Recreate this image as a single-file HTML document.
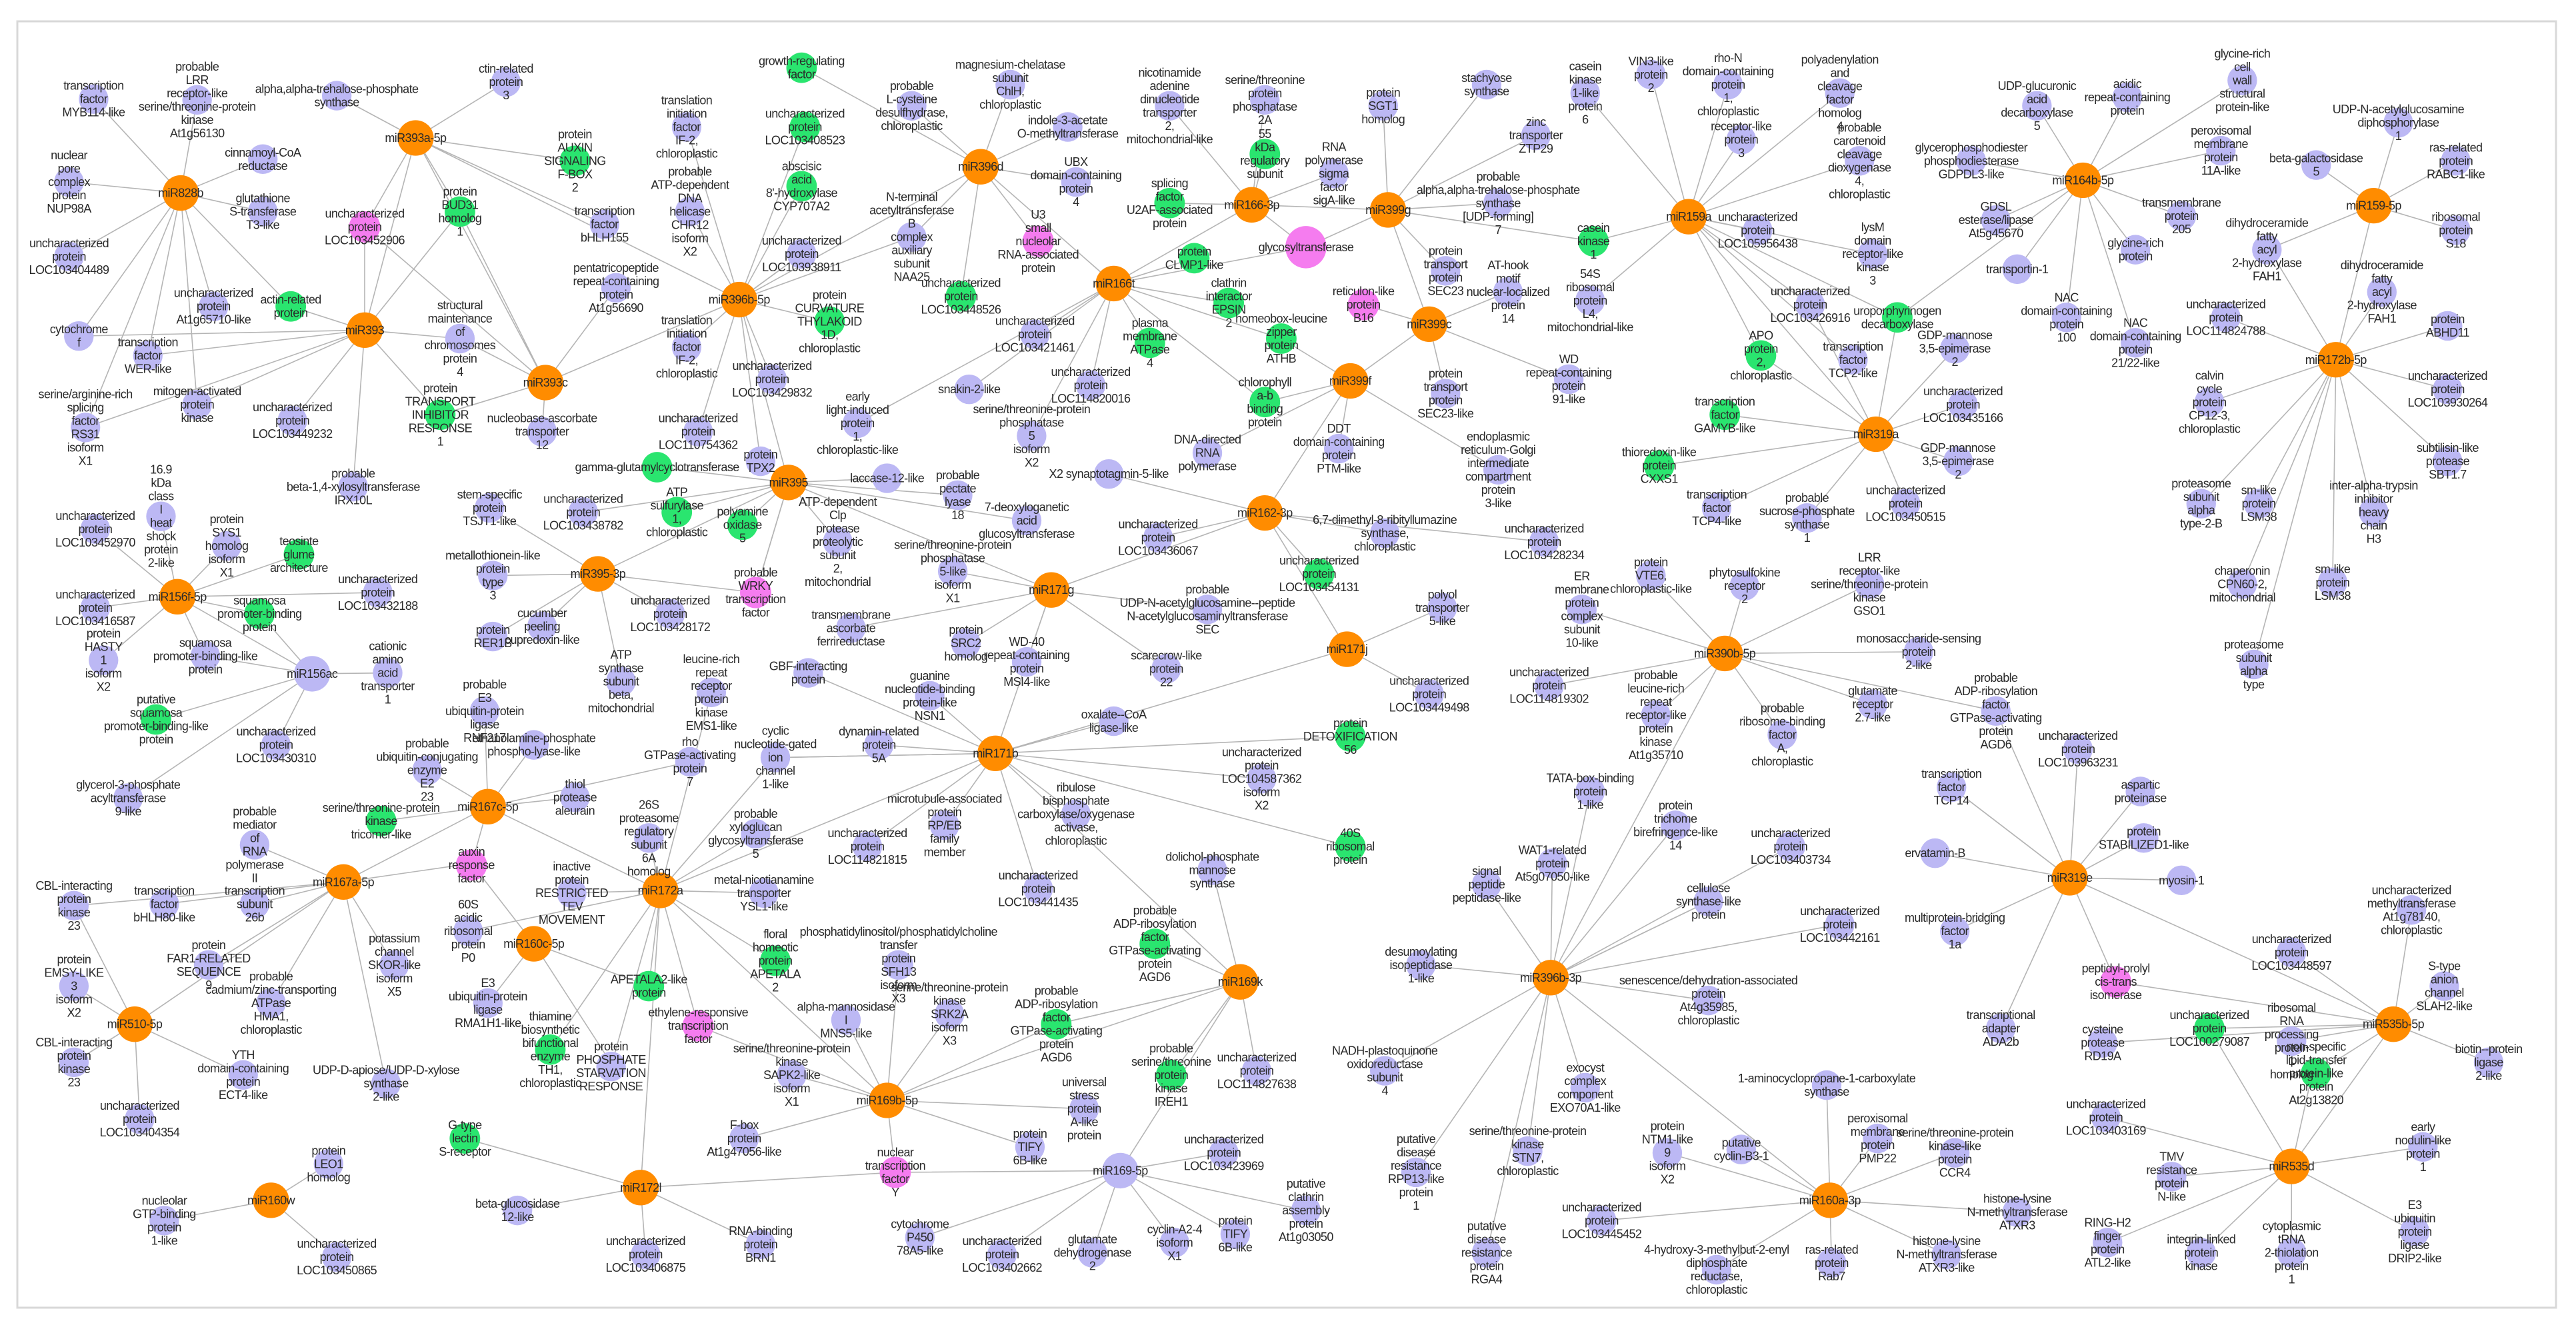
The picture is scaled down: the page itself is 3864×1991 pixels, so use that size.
<!DOCTYPE html>
<html><head><meta charset="utf-8"><style>
html,body{margin:0;padding:0;background:#fff;}
svg{display:block;}
text{font-family:"Liberation Sans","DejaVu Sans",sans-serif;fill:#2a2a2a;}
</style></head><body>
<svg id="S" xmlns="http://www.w3.org/2000/svg" width="3864" height="1991" viewBox="0 0 3864 1991">
<rect x="0" y="0" width="3864" height="1991" fill="#fff"/>
<rect x="26" y="32" width="3808" height="1930" fill="none" stroke="#d8d8d8" stroke-width="3"/>
<g transform="scale(2.464,1.27)">
<g id="L" stroke="#b5b5b5" fill="none">
<path vector-effect="non-scaling-stroke" stroke-width="1.6" d="M253 163L450 354M253 163L222 390M253 163L332 452M110 228L177 362M280 250L332 452M280 250L222 390M222 268L222 390M222 268L332 452M332 452L280 400M332 452L268 490M222 390L48 397M222 390L90 420M222 390L52 505M222 390L120 478M450 354L597 197M450 354L480 570M450 354L332 452M597 197L555 280M678 335L762 242M762 242L845 248M795 292L845 248M795 292L678 335M845 248L870 383M870 383L822 450M822 450L780 400M822 450L770 475M845 248L970 285M1028 256L1142 513M1102 360L1142 513M1072 420L1142 513M1155 375L1142 513M1380 290L1422 425M480 570L364 678M640 697L480 570M770 606L640 697M640 697L606 890M820 767L606 890M770 606L820 767M297 953L209 1042M297 953L402 1052M287 1020L209 1042M287 1020L325 1115M402 1052L390 1403M395 1165L325 1115M425 1212L540 1300M370 1250L325 1115M402 1052L606 890M209 1042L82 1210M45 1070L82 1210M540 1300L755 1160M545 1385L390 1403M545 1385L682 1383M540 1300L402 1052M755 1160L606 890M682 1383L755 1160M944 1155L1050 772M944 1155L1114 1418M1260 1037L1457 1210M1288 1160L1457 1210M1457 1210L1395 1378M1345 1215L1395 1378M1408 1265L1395 1378M108 705L190 796M158 725L190 796M125 775L108 705M364 678L460 700M480 570L460 700M606 890L472 895M402 1052L472 895M1050 772L1215 840M755 1160L643 1210M540 1300L643 1210M822 450L770 606M597 197L678 335M450 354L488 300M1268 213L1155 375M944 1155L1040 1065M1260 1037L1188 930M1422 425L1445 243"/>
</g>
<g id="N"></g>
</g>
<g id="T"></g>
<g id="D" style="display:none">
<g><text class="o" x="110" y="228">miR828b</text>
<text class="l" x="57" y="117">transcription|factor|MYB114-like</text>
<text class="l" x="120" y="118">probable|LRR|receptor-like|serine/threonine-protein|kinase|At1g56130</text>
<text class="l" x="160" y="188">cinnamoyl-CoA|reductase</text>
<text class="l" x="42" y="215">nuclear|pore|complex|protein|NUP98A</text>
<text class="l" x="160" y="250">glutathione|S-transferase|T3-like</text>
<text class="l" x="42" y="303">uncharacterized|protein|LOC103404489</text>
<text class="l" x="130" y="362">uncharacterized|protein|At1g65710-like</text>
<text class="l" x="48" y="397">cytochrome|f</text>
<text class="l" x="90" y="420">transcription|factor|WER-like</text>
<text class="l" x="52" y="505">serine/arginine-rich|splicing|factor|RS31|isoform|X1</text>
<text class="l" x="120" y="478">mitogen-activated|protein|kinase</text>
</g>
<g><text class="o" x="253" y="163">miR393a-5p</text>
<text class="l" x="205" y="113">alpha,alpha-trehalose-phosphate|synthase</text>
<text class="l" x="308" y="97">ctin-related|protein|3</text>
<text class="g" x="350" y="190">protein|AUXIN|SIGNALING|F-BOX|2</text>
<text class="p" x="222" y="268">uncharacterized|protein|LOC103452906</text>
<text class="g" x="280" y="250">protein|BUD31|homolog|1</text>
<text class="l" x="368" y="265">transcription|factor|bHLH155</text>
</g>
<g><text class="o" x="222" y="390">miR393</text>
<text class="g" x="177" y="362">actin-related|protein</text>
<text class="l" x="280" y="400">structural|maintenance|of|chromosomes|protein|4</text>
<text class="g" x="268" y="490">protein|TRANSPORT|INHIBITOR|RESPONSE|1</text>
<text class="l" x="178" y="497">uncharacterized|protein|LOC103449232</text>
<text class="l" x="215" y="575">probable|beta-1,4-xylosyltransferase|IRX10L</text>
</g>
<g><text class="o" x="332" y="452">miR393c</text>
<text class="l" x="375" y="340">pentatricopeptide|repeat-containing|protein|At1g56690</text>
<text class="l" x="330" y="510">nucleobase-ascorbate|transporter|12</text>
</g>
<g><text class="o" x="450" y="354">miR396b-5p</text>
<text class="l" x="418" y="150">translation|initiation|factor|IF-2,|chloroplastic</text>
<text class="l" x="420" y="250">probable|ATP-dependent|DNA|helicase|CHR12|isoform|X2</text>
<text class="g" x="488" y="220">abscisic|acid|8'-hydroxylase|CYP707A2</text>
<text class="l" x="418" y="410">translation|initiation|factor|IF-2,|chloroplastic</text>
<text class="l" x="470" y="448">uncharacterized|protein|LOC103429832</text>
<text class="l" x="425" y="510">uncharacterized|protein|LOC110754362</text>
<text class="l" x="463" y="545">protein|TPX2</text>
<text class="g" x="505" y="380">protein|CURVATURE|THYLAKOID|1D,|chloroplastic</text>
<text class="l" x="488" y="300">uncharacterized|protein|LOC103938911</text>
<text class="l" x="555" y="280">N-terminal|acetyltransferase|B|complex|auxiliary|subunit|NAA25</text>
<text class="g" x="490" y="150">uncharacterized|protein|LOC103408523</text>
</g>
<g><text class="o" x="597" y="197">miR396d</text>
<text class="g" x="488" y="80">growth-regulating|factor</text>
<text class="l" x="555" y="125">probable|L-cysteine|desulfhydrase,|chloroplastic</text>
<text class="l" x="615" y="100">magnesium-chelatase|subunit|ChlH,|chloroplastic</text>
<text class="l" x="650" y="150">indole-3-acetate|O-methyltransferase</text>
<text class="l" x="655" y="215">UBX|domain-containing|protein|4</text>
<text class="p" x="632" y="285">U3|small|nucleolar|RNA-associated|protein</text>
<text class="g" x="585" y="350">uncharacterized|protein|LOC103448526</text>
</g>
<g><text class="o" x="762" y="242">miR166-3p</text>
<text class="l" x="712" y="125">nicotinamide|adenine|dinucleotide|transporter|2,|mitochondrial-like</text>
<text class="l" x="770" y="118">serine/threonine|protein|phosphatase|2A</text>
<text class="g" x="770" y="182">55|kDa|regulatory|subunit</text>
<text class="g" x="712" y="240">splicing|factor|U2AF-associated|protein</text>
<text class="b" x="795" y="292">glycosyltransferase</text>
<text class="l" x="812" y="205">RNA|polymerase|sigma|factor|sigA-like</text>
</g>
<g><text class="o" x="678" y="335">miR166t</text>
<text class="g" x="727" y="305">protein|CLMP1-like</text>
<text class="g" x="748" y="358">clathrin|interactor|EPSIN|2</text>
<text class="g" x="700" y="405">plasma|membrane|ATPase|4</text>
<text class="l" x="630" y="395">uncharacterized|protein|LOC103421461</text>
<text class="g" x="780" y="400">homeobox-leucine|zipper|protein|ATHB</text>
<text class="l" x="664" y="455">uncharacterized|protein|LOC114820016</text>
<text class="l" x="628" y="515">serine/threonine-protein|phosphatase|5|isoform|X2</text>
<text class="g" x="770" y="475">chlorophyll|a-b|binding|protein</text>
<text class="l" x="590" y="460">snakin-2-like</text>
<text class="l" x="522" y="500">early|light-induced|protein|1,|chloroplastic-like</text>
</g>
<g><text class="o" x="845" y="248">miR399g</text>
<text class="l" x="842" y="125">protein|SGT1|homolog</text>
<text class="l" x="905" y="100">stachyose|synthase</text>
<text class="l" x="912" y="240">probable|alpha,alpha-trehalose-phosphate|synthase|[UDP-forming]|7</text>
<text class="l" x="935" y="160">zinc|transporter|ZTP29</text>
<text class="l" x="880" y="320">protein|transport|protein|SEC23</text>
</g>
<g><text class="o" x="870" y="383">miR399c</text>
<text class="p" x="830" y="360">reticulon-like|protein|B16</text>
<text class="l" x="918" y="345">AT-hook|motif|nuclear-localized|protein|14</text>
<text class="l" x="880" y="465">protein|transport|protein|SEC23-like</text>
<text class="l" x="955" y="448">WD|repeat-containing|protein|91-like</text>
</g>
<g><text class="o" x="822" y="450">miR399f</text>
<text class="l" x="815" y="530">DDT|domain-containing|protein|PTM-like</text>
<text class="l" x="735" y="535">DNA-directed|RNA|polymerase</text>
<text class="l" x="912" y="555">endoplasmic|reticulum-Golgi|intermediate|compartment|protein|3-like</text>
</g>
<g><text class="o" x="1028" y="256">miR159a</text>
<text class="l" x="965" y="110">casein|kinase|1-like|protein|6</text>
<text class="l" x="1005" y="88">VIN3-like|protein|2</text>
<text class="l" x="1052" y="100">rho-N|domain-containing|protein|1,|chloroplastic</text>
<text class="l" x="1120" y="110">polyadenylation|and|cleavage|factor|homolog|4</text>
<text class="l" x="1060" y="165">receptor-like|protein|3</text>
<text class="l" x="1132" y="190">probable|carotenoid|cleavage|dioxygenase|4,|chloroplastic</text>
<text class="g" x="970" y="285">casein|kinase|1</text>
<text class="l" x="968" y="355">54S|ribosomal|protein|L4,|mitochondrial-like</text>
<text class="l" x="1070" y="272">uncharacterized|protein|LOC105956438</text>
<text class="l" x="1140" y="300">lysM|domain|receptor-like|kinase|3</text>
<text class="l" x="1102" y="360">uncharacterized|protein|LOC103426916</text>
<text class="g" x="1072" y="420">APO|protein|2,|chloroplastic</text>
<text class="g" x="1155" y="375">uroporphyrinogen|decarboxylase</text>
<text class="l" x="1128" y="425">transcription|factor|TCP2-like</text>
</g>
<g><text class="o" x="1268" y="213">miR164b-5p</text>
<text class="l" x="1240" y="125">UDP-glucuronic|acid|decarboxylase|5</text>
<text class="l" x="1295" y="115">acidic|repeat-containing|protein</text>
<text class="l" x="1365" y="95">glycine-rich|cell|wall|structural|protein-like</text>
<text class="l" x="1200" y="190">glycerophosphodiester|phosphodiesterase|GDPDL3-like</text>
<text class="l" x="1352" y="178">peroxisomal|membrane|protein|11A-like</text>
<text class="l" x="1215" y="260">GDSL|esterase/lipase|At5g45670</text>
<text class="l" x="1328" y="255">transmembrane|protein|205</text>
<text class="l" x="1300" y="295">glycine-rich|protein</text>
<text class="l" x="1228" y="318">transportin-1</text>
<text class="l" x="1258" y="375">NAC|domain-containing|protein|100</text>
<text class="l" x="1300" y="405">NAC|domain-containing|protein|21/22-like</text>
</g>
<g><text class="o" x="1445" y="243">miR159-5p</text>
<text class="l" x="1460" y="145">UDP-N-acetylglucosamine|diphosphorylase|1</text>
<text class="l" x="1410" y="195">beta-galactosidase|5</text>
<text class="l" x="1495" y="190">ras-related|protein|RABC1-like</text>
<text class="l" x="1495" y="272">ribosomal|protein|S18</text>
<text class="l" x="1380" y="295">dihydroceramide|fatty|acyl|2-hydroxylase|FAH1</text>
</g>
<g><text class="o" x="1422" y="425">miR172b-5p</text>
<text class="l" x="1450" y="345">dihydroceramide|fatty|acyl|2-hydroxylase|FAH1</text>
<text class="l" x="1355" y="375">uncharacterized|protein|LOC114824788</text>
<text class="l" x="1490" y="385">protein|ABHD11</text>
<text class="l" x="1490" y="460">uncharacterized|protein|LOC103930264</text>
<text class="l" x="1345" y="475">calvin|cycle|protein|CP12-3,|chloroplastic</text>
<text class="l" x="1490" y="545">subtilisin-like|protease|SBT1.7</text>
<text class="l" x="1340" y="595">proteasome|subunit|alpha|type-2-B</text>
<text class="l" x="1375" y="595">sm-like|protein|LSM38</text>
<text class="l" x="1445" y="605">inter-alpha-trypsin|inhibitor|heavy|chain|H3</text>
<text class="l" x="1420" y="688">sm-like|protein|LSM38</text>
<text class="l" x="1365" y="690">chaperonin|CPN60-2,|mitochondrial</text>
<text class="l" x="1372" y="785">proteasome|subunit|alpha|type</text>
</g>
<g><text class="o" x="1142" y="513">miR319a</text>
<text class="l" x="1195" y="478">uncharacterized|protein|LOC103435166</text>
<text class="l" x="1190" y="412">GDP-mannose|3,5-epimerase|2</text>
<text class="g" x="1050" y="490">transcription|factor|GAMYB-like</text>
<text class="g" x="1010" y="550">thioredoxin-like|protein|CXXS1</text>
<text class="l" x="1192" y="545">GDP-mannose|3,5-epimerase|2</text>
<text class="l" x="1045" y="600">transcription|factor|TCP4-like</text>
<text class="l" x="1100" y="612">probable|sucrose-phosphate|synthase|1</text>
<text class="l" x="1160" y="595">uncharacterized|protein|LOC103450515</text>
</g>
<g><text class="o" x="480" y="570">miR395</text>
<text class="g" x="400" y="552">gamma-glutamylcyclotransferase</text>
<text class="g" x="412" y="605">ATP|sulfurylase|1,|chloroplastic</text>
<text class="g" x="452" y="620">polyamine|oxidase|5</text>
<text class="l" x="540" y="565">laccase-12-like</text>
<text class="l" x="583" y="585">probable|pectate|lyase|18</text>
<text class="l" x="510" y="640">ATP-dependent|Clp|protease|proteolytic|subunit|2,|mitochondrial</text>
<text class="l" x="625" y="615">7-deoxyloganetic|acid|glucosyltransferase</text>
<text class="l" x="355" y="605">uncharacterized|protein|LOC103438782</text>
<text class="p" x="460" y="700">probable|WRKY|transcription|factor</text>
</g>
<g><text class="o" x="364" y="678">miR395-3p</text>
<text class="l" x="298" y="600">stem-specific|protein|TSJT1-like</text>
<text class="l" x="300" y="680">metallothionein-like|protein|type|3</text>
<text class="l" x="300" y="752">protein|RER1B</text>
<text class="l" x="330" y="740">cucumber|peeling|cupredoxin-like</text>
<text class="l" x="408" y="725">uncharacterized|protein|LOC103428172</text>
<text class="l" x="378" y="805">ATP|synthase|subunit|beta,|mitochondrial</text>
</g>
<g><text class="o" x="770" y="606">miR162-3p</text>
<text class="l" x="675" y="560">X2 synaptotagmin-5-like</text>
<text class="l" x="705" y="635">uncharacterized|protein|LOC103436067</text>
<text class="l" x="843" y="630">6,7-dimethyl-8-ribityllumazine|synthase,|chloroplastic</text>
<text class="g" x="803" y="678">uncharacterized|protein|LOC103454131</text>
<text class="l" x="940" y="640">uncharacterized|protein|LOC103428234</text>
</g>
<g><text class="o" x="640" y="697">miR171g</text>
<text class="l" x="580" y="675">serine/threonine-protein|phosphatase|5-like|isoform|X1</text>
<text class="l" x="518" y="742">transmembrane|ascorbate|ferrireductase</text>
<text class="l" x="588" y="760">protein|SRC2|homolog</text>
<text class="l" x="625" y="782">WD-40|repeat-containing|protein|MSI4-like</text>
<text class="l" x="735" y="720">probable|UDP-N-acetylglucosamine--peptide|N-acetylglucosaminyltransferase|SEC</text>
<text class="l" x="710" y="790">scarecrow-like|protein|22</text>
</g>
<g><text class="o" x="820" y="767">miR171j</text>
<text class="l" x="878" y="718">polyol|transporter|5-like</text>
<text class="l" x="870" y="820">uncharacterized|protein|LOC103449498</text>
</g>
<g><text class="o" x="108" y="705">miR156f-5p</text>
<text class="l" x="98" y="610">16.9|kDa|class|I|heat|shock|protein|2-like</text>
<text class="l" x="58" y="625">uncharacterized|protein|LOC103452970</text>
<text class="l" x="138" y="645">protein|SYS1|homolog|isoform|X1</text>
<text class="g" x="182" y="655">teosinte|glume|architecture</text>
<text class="l" x="58" y="718">uncharacterized|protein|LOC103416587</text>
<text class="l" x="63" y="780">protein|HASTY|1|isoform|X2</text>
<text class="g" x="158" y="725">squamosa|promoter-binding|protein</text>
<text class="l" x="230" y="700">uncharacterized|protein|LOC103432188</text>
</g>
<g><text class="l" x="190" y="796">miR156ac</text>
<text class="l" x="125" y="775">squamosa|promoter-binding-like|protein</text>
<text class="g" x="95" y="850">putative|squamosa|promoter-binding-like|protein</text>
<text class="l" x="236" y="795">cationic|amino|acid|transporter|1</text>
<text class="l" x="168" y="880">uncharacterized|protein|LOC103430310</text>
<text class="l" x="78" y="943">glycerol-3-phosphate|acyltransferase|9-like</text>
</g>
<g><text class="o" x="1050" y="772">miR390b-5p</text>
<text class="l" x="1005" y="680">protein|VTE6,|chloroplastic-like</text>
<text class="l" x="1062" y="692">phytosulfokine|receptor|2</text>
<text class="l" x="1138" y="690">LRR|receptor-like|serine/threonine-protein|kinase|GSO1</text>
<text class="l" x="963" y="720">ER|membrane|protein|complex|subunit|10-like</text>
<text class="l" x="1168" y="770">monosaccharide-sensing|protein|2-like</text>
<text class="l" x="943" y="810">uncharacterized|protein|LOC114819302</text>
<text class="l" x="1008" y="845">probable|leucine-rich|repeat|receptor-like|protein|kinase|At1g35710</text>
<text class="l" x="1085" y="868">probable|ribosome-binding|factor|A,|chloroplastic</text>
<text class="l" x="1140" y="832">glutamate|receptor|2.7-like</text>
</g>
<g><text class="o" x="606" y="890">miR171b</text>
<text class="l" x="492" y="795">GBF-interacting|protein</text>
<text class="l" x="535" y="880">dynamin-related|protein|5A</text>
<text class="l" x="566" y="822">guanine|nucleotide-binding|protein-like|NSN1</text>
<text class="l" x="678" y="852">oxalate--CoA|ligase-like</text>
<text class="g" x="822" y="870">protein|DETOXIFICATION|56</text>
<text class="l" x="768" y="920">uncharacterized|protein|LOC104587362|isoform|X2</text>
<text class="g" x="822" y="1000">40S|ribosomal|protein</text>
<text class="l" x="575" y="975">microtubule-associated|protein|RP/EB|family|member</text>
<text class="l" x="655" y="962">ribulose|bisphosphate|carboxylase/oxygenase|activase,|chloroplastic</text>
<text class="l" x="528" y="1000">uncharacterized|protein|LOC114821815</text>
<text class="l" x="632" y="1050">uncharacterized|protein|LOC103441435</text>
<text class="l" x="472" y="895">cyclic|nucleotide-gated|ion|channel|1-like</text>
</g>
<g><text class="o" x="297" y="953">miR167c-5p</text>
<text class="l" x="295" y="840">probable|E3|ubiquitin-protein|ligase|RNF217</text>
<text class="l" x="325" y="880">ethanolamine-phosphate|phospho-lyase-like</text>
<text class="l" x="420" y="900">rho|GTPase-activating|protein|7</text>
<text class="l" x="260" y="910">probable|ubiquitin-conjugating|enzyme|E2|23</text>
<text class="l" x="350" y="942">thiol|protease|aleurain</text>
<text class="g" x="232" y="970">serine/threonine-protein|kinase|tricomer-like</text>
<text class="p" x="287" y="1022">auxin|response|factor</text>
</g>
<g><text class="o" x="209" y="1042">miR167a-5p</text>
<text class="l" x="155" y="998">probable|mediator|of|RNA|polymerase|II</text>
<text class="l" x="155" y="1068">transcription|subunit|26b</text>
<text class="l" x="100" y="1068">transcription|factor|bHLH80-like</text>
<text class="l" x="45" y="1070">CBL-interacting|protein|kinase|23</text>
<text class="l" x="127" y="1140">protein|FAR1-RELATED|SEQUENCE|9</text>
<text class="l" x="165" y="1185">probable|cadmium/zinc-transporting|ATPase|HMA1,|chloroplastic</text>
<text class="l" x="240" y="1140">potassium|channel|SKOR-like|isoform|X5</text>
<text class="l" x="235" y="1280">UDP-D-apiose/UDP-D-xylose|synthase|2-like</text>
</g>
<g><text class="o" x="402" y="1052">miR172a</text>
<text class="l" x="395" y="990">26S|proteasome|regulatory|subunit|6A|homolog</text>
<text class="l" x="433" y="818">leucine-rich|repeat|receptor|protein|kinase|EMS1-like</text>
<text class="l" x="460" y="985">probable|xyloglucan|glycosyltransferase|5</text>
<text class="l" x="348" y="1055">inactive|protein|RESTRICTED|TEV|MOVEMENT</text>
<text class="l" x="465" y="1055">metal-nicotianamine|transporter|YSL1-like</text>
<text class="g" x="472" y="1135">floral|homeotic|protein|APETALA|2</text>
<text class="g" x="395" y="1165">APETALA2-like|protein</text>
<text class="p" x="425" y="1212">ethylene-responsive|transcription|factor</text>
<text class="l" x="285" y="1100">60S|acidic|ribosomal|protein|P0</text>
<text class="g" x="335" y="1240">thiamine|biosynthetic|bifunctional|enzyme|TH1,|chloroplastic</text>
<text class="l" x="372" y="1260">protein|PHOSPHATE|STARVATION|RESPONSE</text>
</g>
<g><text class="o" x="325" y="1115">miR160c-5p</text>
<text class="l" x="297" y="1185">E3|ubiquitin-protein|ligase|RMA1H1-like</text>
</g>
<g><text class="o" x="1260" y="1037">miR319e</text>
<text class="l" x="1215" y="840">probable|ADP-ribosylation|factor|GTPase-activating|protein|AGD6</text>
<text class="l" x="1265" y="885">uncharacterized|protein|LOC103963231</text>
<text class="l" x="1188" y="930">transcription|factor|TCP14</text>
<text class="l" x="1303" y="935">aspartic|proteinase</text>
<text class="l" x="1305" y="990">protein|STABILIZED1-like</text>
<text class="l" x="1178" y="1008">ervatamin-B</text>
<text class="l" x="1328" y="1040">myosin-1</text>
<text class="l" x="1190" y="1100">multiprotein-bridging|factor|1a</text>
<text class="l" x="1218" y="1215">transcriptional|adapter|ADA2b</text>
<text class="p" x="1288" y="1160">peptidyl-prolyl|cis-trans|isomerase</text>
</g>
<g><text class="o" x="944" y="1155">miR396b-3p</text>
<text class="l" x="968" y="935">TATA-box-binding|protein|1-like</text>
<text class="l" x="1020" y="975">protein|trichome|birefringence-like|14</text>
<text class="l" x="945" y="1020">WAT1-related|protein|At5g07050-like</text>
<text class="l" x="1090" y="1000">uncharacterized|protein|LOC103403734</text>
<text class="l" x="905" y="1045">signal|peptide|peptidase-like</text>
<text class="l" x="1040" y="1065">cellulose|synthase-like|protein</text>
<text class="l" x="1120" y="1092">uncharacterized|protein|LOC103442161</text>
<text class="l" x="865" y="1140">desumoylating|isopeptidase|1-like</text>
<text class="l" x="1040" y="1182">senescence/dehydration-associated|protein|At4g35985,|chloroplastic</text>
<text class="l" x="843" y="1265">NADH-plastoquinone|oxidoreductase|subunit|4</text>
<text class="l" x="965" y="1285">exocyst|complex|component|EXO70A1-like</text>
<text class="l" x="862" y="1385">putative|disease|resistance|RPP13-like|protein|1</text>
<text class="l" x="930" y="1360">serine/threonine-protein|kinase|STN7,|chloroplastic</text>
<text class="l" x="905" y="1480">putative|disease|resistance|protein|RGA4</text>
</g>
<g><text class="o" x="755" y="1160">miR169k</text>
<text class="g" x="703" y="1115">probable|ADP-ribosylation|factor|GTPase-activating|protein|AGD6</text>
<text class="l" x="738" y="1028">dolichol-phosphate|mannose|synthase</text>
<text class="g" x="643" y="1210">probable|ADP-ribosylation|factor|GTPase-activating|protein|AGD6</text>
<text class="g" x="713" y="1270">probable|serine/threonine|protein|kinase|IREH1</text>
<text class="l" x="765" y="1265">uncharacterized|protein|LOC114827638</text>
</g>
<g><text class="o" x="540" y="1300">miR169b-5p</text>
<text class="l" x="547" y="1140">phosphatidylinositol/phosphatidylcholine|transfer|protein|SFH13|isoform|X3</text>
<text class="l" x="515" y="1205">alpha-mannosidase|I|MNS5-like</text>
<text class="l" x="578" y="1198">serine/threonine-protein|kinase|SRK2A|isoform|X3</text>
<text class="l" x="482" y="1270">serine/threonine-protein|kinase|SAPK2-like|isoform|X1</text>
<text class="l" x="453" y="1345">F-box|protein|At1g47056-like</text>
<text class="p" x="545" y="1385">nuclear|transcription|factor|Y</text>
<text class="l" x="660" y="1310">universal|stress|protein|A-like|protein</text>
<text class="l" x="627" y="1355">protein|TIFY|6B-like</text>
</g>
<g><text class="l" x="682" y="1383">miR169-5p</text>
<text class="l" x="745" y="1362">uncharacterized|protein|LOC103423969</text>
<text class="l" x="560" y="1462">cytochrome|P450|78A5-like</text>
<text class="l" x="610" y="1482">uncharacterized|protein|LOC103402662</text>
<text class="l" x="665" y="1480">glutamate|dehydrogenase|2</text>
<text class="l" x="715" y="1468">cyclin-A2-4|isoform|X1</text>
<text class="l" x="752" y="1458">protein|TIFY|6B-like</text>
<text class="l" x="795" y="1430">putative|clathrin|assembly|protein|At1g03050</text>
</g>
<g><text class="o" x="82" y="1210">miR510-5p</text>
<text class="l" x="45" y="1165">protein|EMSY-LIKE|3|isoform|X2</text>
<text class="l" x="45" y="1255">CBL-interacting|protein|kinase|23</text>
<text class="l" x="148" y="1270">YTH|domain-containing|protein|ECT4-like</text>
<text class="l" x="85" y="1322">uncharacterized|protein|LOC103404354</text>
</g>
<g><text class="o" x="1457" y="1210">miR535b-5p</text>
<text class="l" x="1468" y="1075">uncharacterized|methyltransferase|At1g78140,|chloroplastic</text>
<text class="l" x="1395" y="1125">uncharacterized|protein|LOC103448597</text>
<text class="l" x="1488" y="1165">S-type|anion|channel|SLAH2-like</text>
<text class="g" x="1345" y="1215">uncharacterized|protein|LOC100279087</text>
<text class="l" x="1395" y="1230">ribosomal|RNA|processing|protein|1|homolog</text>
<text class="g" x="1410" y="1268">non-specific|lipid-transfer|protein-like|protein|At2g13820</text>
<text class="l" x="1515" y="1255">biotin--protein|ligase|2-like</text>
<text class="l" x="1280" y="1232">cysteine|protease|RD19A</text>
</g>
<g><text class="o" x="1395" y="1378">miR535d</text>
<text class="l" x="1282" y="1320">uncharacterized|protein|LOC103403169</text>
<text class="l" x="1322" y="1390">TMV|resistance|protein|N-like</text>
<text class="l" x="1475" y="1355">early|nodulin-like|protein|1</text>
<text class="l" x="1283" y="1468">RING-H2|finger|protein|ATL2-like</text>
<text class="l" x="1340" y="1480">integrin-linked|protein|kinase</text>
<text class="l" x="1395" y="1480">cytoplasmic|tRNA|2-thiolation|protein|1</text>
<text class="l" x="1470" y="1455">E3|ubiquitin|protein|ligase|DRIP2-like</text>
</g>
<g><text class="o" x="390" y="1403">miR172l</text>
<text class="g" x="283" y="1345">G-type|lectin|S-receptor</text>
<text class="l" x="315" y="1430">beta-glucosidase|12-like</text>
<text class="l" x="393" y="1482">uncharacterized|protein|LOC103406875</text>
<text class="l" x="463" y="1470">RNA-binding|protein|BRN1</text>
</g>
<g><text class="o" x="1114" y="1418">miR160a-3p</text>
<text class="l" x="1015" y="1362">protein|NTM1-like|9|isoform|X2</text>
<text class="l" x="1060" y="1358">putative|cyclin-B3-1</text>
<text class="l" x="1112" y="1282">1-aminocyclopropane-1-carboxylate|synthase</text>
<text class="l" x="1143" y="1345">peroxisomal|membrane|protein|PMP22</text>
<text class="l" x="1190" y="1362">serine/threonine-protein|kinase-like|protein|CCR4</text>
<text class="l" x="1228" y="1432">histone-lysine|N-methyltransferase|ATXR3</text>
<text class="l" x="975" y="1442">uncharacterized|protein|LOC103445452</text>
<text class="l" x="1045" y="1500">4-hydroxy-3-methylbut-2-enyl|diphosphate|reductase,|chloroplastic</text>
<text class="l" x="1115" y="1492">ras-related|protein|Rab7</text>
<text class="l" x="1185" y="1482">histone-lysine|N-methyltransferase|ATXR3-like</text>
</g>
<g><text class="o" x="165" y="1418">miR160w</text>
<text class="l" x="200" y="1375">protein|LEO1|homolog</text>
<text class="l" x="100" y="1442">nucleolar|GTP-binding|protein|1-like</text>
<text class="l" x="205" y="1485">uncharacterized|protein|LOC103450865</text>
</g>
</g>
</svg>
<script>
(function(){
var NS='http://www.w3.org/2000/svg';
var L=document.getElementById('L'),N=document.getElementById('N'),T=document.getElementById('T'),D=document.getElementById('D');
var R={o:[11,21],l:[9,17.5],g:[9.3,18],p:[9.5,18.5],b:[12.5,25]};
var C={o:'#ff8c00',l:'#bcb8f4',g:'#2ae56f',p:'#f57cef',b:'#f57cef'};
var lines='';
var groups=D.querySelectorAll(':scope > g');
var hubs=[];
groups.forEach(function(g){
 var ts=g.querySelectorAll('text');var hx=0,hy=0;
 ts.forEach(function(t,i){
  var x=+t.getAttribute('x'),y=+t.getAttribute('y'),c=t.getAttribute('class');
  if(i==0){hx=x;hy=y;hubs.push([x,y,c,t.textContent]);return;}
  lines+='M'+hx+' '+hy+'L'+x+' '+y;
  var e=document.createElementNS(NS,'ellipse');
  e.setAttribute('cx',x);e.setAttribute('cy',y);e.setAttribute('rx',R[c][0]);e.setAttribute('ry',R[c][1]);e.setAttribute('fill',C[c]);
  N.appendChild(e);
  addText(x,y,t.textContent.split('|'));
 });
});
hubs.forEach(function(h){
 var c=h[2]=='o'?'o':'l';
 var e=document.createElementNS(NS,'ellipse');
 e.setAttribute('cx',h[0]);e.setAttribute('cy',h[1]);e.setAttribute('rx',R.o[0]);e.setAttribute('ry',R.o[1]);e.setAttribute('fill',C[c]);
 N.appendChild(e);
 addText(h[0],h[1],[h[3]]);
});
var p=document.createElementNS(NS,'path');
p.setAttribute('d',lines);p.setAttribute('vector-effect','non-scaling-stroke');p.setAttribute('stroke-width','1.6');
L.appendChild(p);
function addText(x,y,arr){
 var t=document.createElementNS(NS,'text');
 var X=x*2.464,Y=y*1.27,lh=20,n=arr.length;
 t.setAttribute('font-size','18');t.setAttribute('text-anchor','middle');
 t.setAttribute('letter-spacing','-0.6');
 arr.forEach(function(s,i){
  var sp=document.createElementNS(NS,'tspan');
  sp.setAttribute('x',X.toFixed(1));
  sp.setAttribute('y',(Y+(i-(n-1)/2)*lh+6).toFixed(1));
  sp.textContent=s;t.appendChild(sp);
 });
 T.appendChild(t);
}
D.parentNode.removeChild(D);
})();
</script>
</body></html>
